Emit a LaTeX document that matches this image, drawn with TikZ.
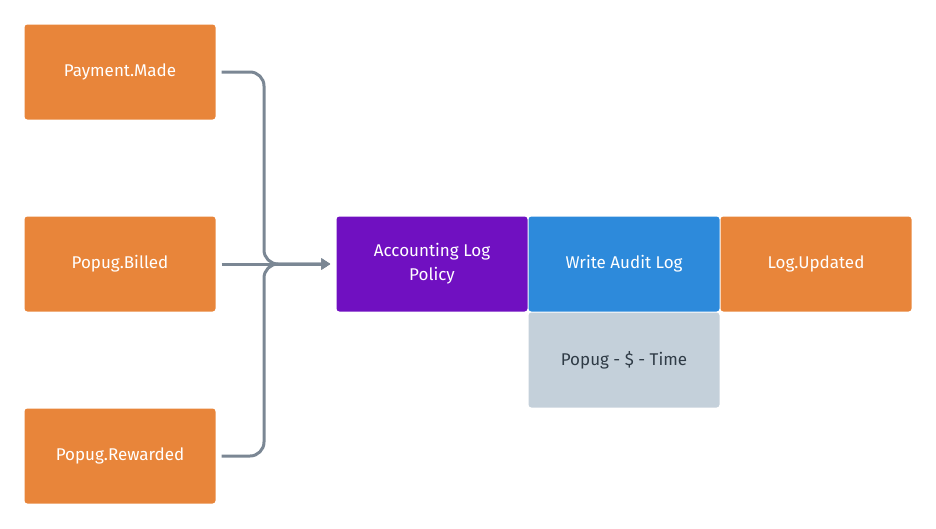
\documentclass[tikz,border=0pt]{standalone}
\usepackage{fontspec}
\setmainfont{Fira Sans}
\usetikzlibrary{arrows.meta}
\definecolor{evorange}{HTML}{E8853A}
\definecolor{polpurple}{HTML}{7010C1}
\definecolor{cmdblue}{HTML}{2D8ADB}
\definecolor{datagrey}{HTML}{C4D0DA}
\definecolor{linegrey}{HTML}{7B8794}
\definecolor{darktext}{HTML}{2F3B46}
\begin{document}
\begin{tikzpicture}[x=1pt,y=-1pt,
	card/.style={rectangle,rounded corners=3pt,minimum width=191pt,minimum height=95pt,inner sep=0pt,align=center,text=white,font=\fontsize{17}{24}\selectfont},
	event/.style={card,fill=evorange},
	policy/.style={card,fill=polpurple},
	command/.style={card,fill=cmdblue},
	readmodel/.style={card,fill=datagrey,text=darktext},
	flow/.style={draw=linegrey,line width=3pt,rounded corners=14pt,shorten <=6pt,shorten >=6pt,-{Triangle[length=9pt,width=11pt]}}]
	\useasboundingbox (0,0) rectangle (936,528);
	\node[event] (pm) at (120,72) {Payment.Made};
	\node[event] (pb) at (120,264) {Popug.Billed};
	\node[event] (pr) at (120,456) {Popug.Rewarded};
	\node[policy] (acc) at (432,264) {Accounting Log\\Policy};
	\node[command] (wal) at (624,264) {Write Audit Log};
	\node[event] (lu) at (816,264) {Log.Updated};
	\node[readmodel] (ptt) at (624,360) {Popug - \$ - Time};
	\coordinate (jn) at (264,264);
	\draw[flow] (pm.east) -- (jn |- pm.east) -- (jn) -- (acc.west);
	\draw[flow] (pb.east) -- (acc.west);
	\draw[flow] (pr.east) -- (jn |- pr.east) -- (jn) -- (acc.west);
\end{tikzpicture}
\end{document}
